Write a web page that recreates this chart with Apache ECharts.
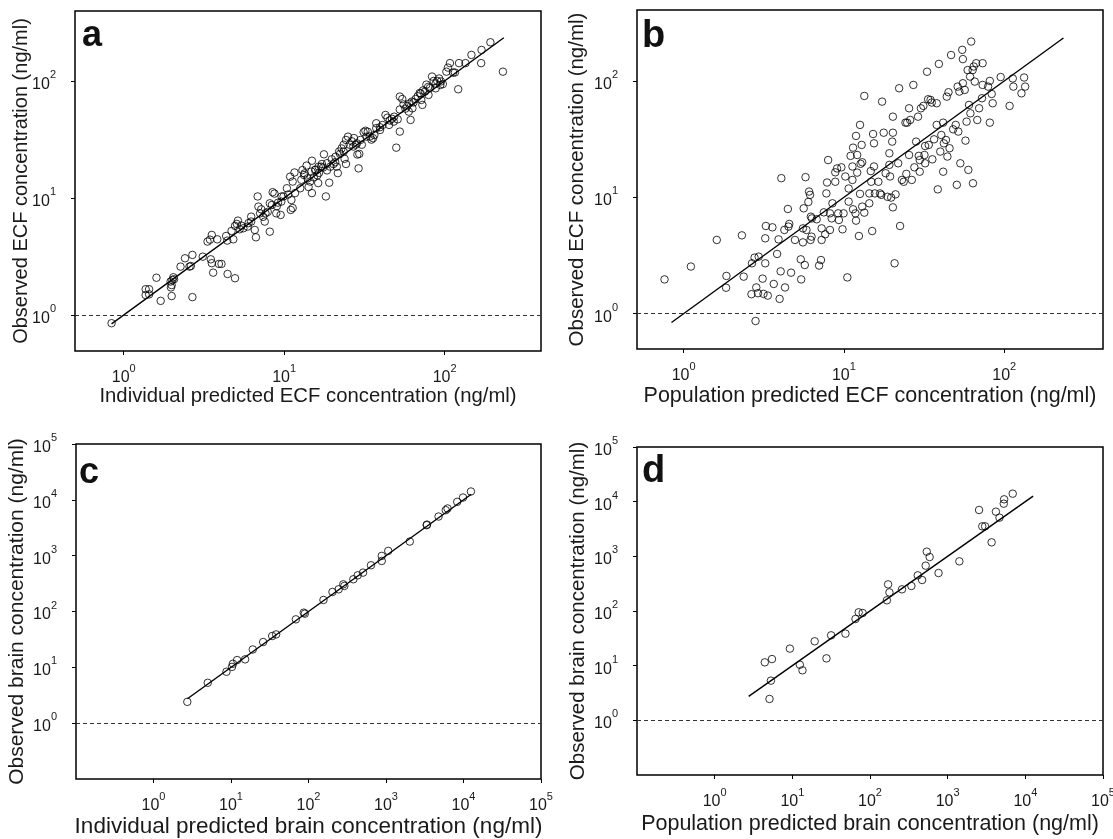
<!DOCTYPE html>
<html>
<head>
    <meta charset="utf-8"/>
    <style>
        html, body {
            padding: 0;
            margin: 0;
            background: #fff;
        }

        #main {
            width: 1113px;
            height: 839px;
        }
    </style>
</head>
<body>
<div id="main"></div>
<script src="https://cdn.jsdelivr.net/npm/echarts@6/dist/echarts.min.js"></script>
<script>
    // [predicted, observed] in ng/ml
    var ecfIndividual = [
        [0.84, 0.85], [1.37, 1.66], [1.44, 1.66], [1.37, 1.48], [1.44, 1.50], [1.60, 2.08], [1.70, 1.32],
        [1.96, 1.93], [1.99, 1.80], [1.97, 1.72], [2.01, 1.99], [2.04, 2.10], [1.99, 1.45], [2.06, 2.02],
        [2.26, 2.59], [2.41, 3.05], [2.57, 2.59], [2.68, 3.26], [2.68, 1.42], [2.62, 2.62],
        [3.11, 3.15], [3.33, 4.24], [3.54, 4.83], [3.83, 4.43], [3.45, 4.40],
        [3.49, 2.99], [3.54, 2.77], [3.61, 2.30], [3.92, 2.73], [4.07, 2.73], [4.44, 2.24], [4.94, 2.06],
        [4.35, 4.73], [4.42, 4.32], [4.82, 4.43], [4.70, 5.22], [5.07, 6.00], [4.94, 5.77], [5.15, 6.40],
        [5.28, 5.40], [5.57, 5.51], [5.92, 5.69], [6.23, 6.28], [6.56, 5.33], [6.67, 4.61], [5.40, 5.80], [6.00, 6.10],
        [6.84, 10.3], [6.91, 8.43], [7.20, 8.00], [7.65, 7.39], [7.57, 6.28], [8.14, 5.15], [7.40, 6.90],
        [7.90, 7.60], [6.23, 6.92], [7.08, 7.39],
        [8.14, 9.00], [8.48, 11.2], [8.70, 10.9], [9.16, 9.12], [9.51, 7.16], [8.93, 7.39], [9.00, 8.50],
        [9.60, 9.30], [8.39, 8.71], [9.64, 10.3],
        [9.91, 10.3], [10.4, 12.1], [10.9, 15.2], [11.3, 13.8], [11.1, 9.60], [11.0, 7.90], [11.3, 8.20],
        [11.6, 16.5], [11.7, 11.0], [10.6, 10.7],
        [12.6, 12.1], [12.8, 14.3], [13.0, 17.3], [13.3, 15.7], [13.4, 16.2], [13.8, 18.9], [14.0, 14.7],
        [14.2, 12.4], [14.5, 13.8], [14.8, 16.8], [14.9, 11.0], [14.9, 20.8], [15.3, 15.0], [15.6, 17.3],
        [15.7, 17.5], [16.1, 15.6], [16.3, 13.4], [16.4, 18.5], [16.5, 16.4], [17.0, 18.5], [17.2, 19.5],
        [17.7, 23.6], [18.2, 10.3], [17.5, 18.2], [18.5, 19.8], [18.5, 17.2], [19.1, 13.5], [19.4, 18.5],
        [19.8, 21.4], [20.3, 19.5], [20.8, 20.2], [20.9, 22.5], [21.3, 18.5], [21.6, 16.3],
        [22.0, 24.9], [22.3, 23.8], [22.8, 26.5], [23.5, 28.5], [23.5, 24.9], [24.3, 19.5], [23.8, 21.6],
        [24.3, 31.3], [25.0, 33.4], [25.6, 28.5], [26.4, 30.5], [27.0, 27.5], [27.2, 32.5], [28.0, 28.5],
        [28.4, 29.3], [29.1, 17.9], [28.6, 23.5], [29.4, 23.8], [29.9, 31.3], [30.5, 28.5], [31.3, 36.5],
        [32.1, 37.5], [32.6, 33.4], [33.2, 36.8], [34.2, 33.5], [35.0, 31.5], [35.8, 32.4], [36.5, 34.5],
        [37.5, 39.5], [37.5, 43.5], [39.5, 40.2], [39.6, 38.1], [41.0, 42.0], [42.8, 51.2], [44.0, 48.5],
        [45.1, 42.1], [45.5, 46.0], [47.0, 47.5], [48.2, 44.9], [48.5, 49.5], [50.0, 26.9], [51.0, 47.0],
        [52.6, 36.9], [52.6, 57.0], [52.6, 73.5], [54.5, 70.0], [55.5, 63.0], [57.0, 58.0], [58.5, 61.0],
        [59.8, 54.7], [61.4, 46.4], [60.0, 64.0], [62.5, 66.5], [63.0, 58.4], [64.0, 65.5], [66.0, 70.0],
        [68.0, 74.0], [70.0, 79.0], [71.6, 68.8], [72.7, 62.4], [71.0, 78.0], [73.5, 83.0], [75.5, 81.0],
        [77.0, 93.0], [79.0, 89.0], [79.4, 75.9], [81.0, 87.0], [83.5, 109], [85.5, 100], [88.0, 95.0],
        [88.0, 86.5], [90.0, 100], [92.5, 105], [94.0, 92.4], [95.0, 99.0], [97.5, 94.0], [102.6, 120],
        [105, 130], [108, 142], [113, 118], [116, 118], [121.6, 84.9], [123, 142], [135, 142], [147, 167],
        [169, 142], [170, 184], [193, 214], [231, 120]
    ];

    var ecfPopulation = [
        [0.76, 1.97], [1.11, 2.54], [1.61, 4.30], [1.85, 2.11], [1.84, 1.67], [2.31, 4.71], [2.37, 2.08],
        [2.67, 2.71], [2.77, 3.03], [2.94, 3.09], [2.65, 1.47], [2.84, 1.68], [2.91, 1.50], [2.81, 0.865],
        [3.15, 1.48], [3.35, 1.43], [3.11, 2.00], [3.23, 4.44], [3.26, 5.67], [3.23, 2.71], [3.58, 5.52],
        [3.65, 1.80], [3.83, 3.26], [3.91, 4.35], [4.03, 2.31], [3.97, 1.34], [4.07, 14.6], [4.29, 1.68],
        [4.25, 5.24], [4.47, 7.94], [4.51, 5.60], [4.56, 5.90], [4.68, 2.25], [4.95, 4.30], [5.38, 2.93],
        [5.41, 1.97], [5.55, 5.41], [5.55, 4.10], [5.70, 2.62], [5.61, 8.04], [5.76, 14.9], [5.84, 5.24],
        [6.00, 9.12], [6.06, 11.2], [6.15, 10.5], [6.22, 6.82], [6.28, 4.59], [6.19, 4.30], [6.31, 6.59],
        [6.76, 6.47], [7.00, 2.59], [7.19, 2.89], [7.26, 4.30], [7.26, 5.41], [7.49, 7.43], [7.77, 10.8],
        [7.85, 13.4], [7.64, 4.81], [7.97, 20.9], [8.18, 5.24], [8.18, 7.28], [8.39, 6.59], [8.48, 8.88],
        [8.83, 13.6], [8.83, 16.4], [9.06, 17.7], [9.21, 7.28], [9.30, 6.38], [9.64, 18.1], [9.80, 5.31],
        [9.95, 7.28], [10.2, 15.1], [10.5, 2.05], [10.7, 11.9], [10.7, 9.18], [11.0, 22.7], [11.3, 18.4],
        [11.3, 14.1], [11.4, 7.89], [11.4, 26.7], [11.8, 7.28], [11.9, 33.7], [12.1, 16.3], [12.1, 23.1],
        [11.9, 6.30], [12.4, 4.65], [12.6, 10.7], [12.7, 19.4], [12.6, 41.9], [12.9, 28.2], [13.0, 20.0],
        [13.0, 8.32], [13.4, 7.38], [13.4, 74.3], [14.4, 8.88], [14.4, 10.8], [14.7, 16.8], [14.8, 13.6],
        [15.0, 5.13], [15.2, 35.0], [15.4, 29.1], [15.4, 18.4], [15.6, 10.8], [16.4, 13.6], [16.8, 10.8],
        [17.1, 10.5], [17.3, 66.4], [17.7, 35.9], [18.2, 16.1], [18.7, 10.1], [19.2, 23.9], [19.2, 19.0],
        [19.4, 15.1], [19.7, 9.94], [20.0, 30.1], [20.2, 35.9], [20.2, 49.3], [20.2, 8.20], [20.7, 2.71],
        [21.0, 10.6], [21.8, 19.6], [22.1, 86.5], [22.4, 5.67], [23.0, 14.1], [23.6, 13.6], [24.2, 43.8],
        [24.8, 43.8], [24.5, 15.9], [25.5, 58.2], [25.5, 23.1], [25.9, 46.2], [26.5, 14.1], [27.1, 92.4],
        [27.5, 18.1], [28.2, 30.1], [29.0, 49.3], [29.3, 22.7], [29.7, 20.9], [29.7, 16.6], [30.2, 58.2],
        [31.3, 61.0], [31.8, 23.1], [32.1, 19.6], [32.1, 27.6], [33.0, 120], [33.5, 69.6], [33.8, 28.2],
        [34.7, 68.7], [35.3, 65.2], [35.6, 21.2], [36.5, 31.5], [37.9, 64.3], [38.5, 11.7], [39.1, 140],
        [37.9, 41.9], [39.9, 24.7], [40.5, 34.3], [41.6, 43.8], [41.6, 16.6], [42.0, 29.1], [43.3, 31.1],
        [43.8, 73.3], [44.2, 22.4], [44.9, 80.0], [45.6, 26.4], [46.6, 167], [48.0, 38.4], [49.8, 41.9],
        [50.6, 12.8], [51.2, 89.4], [51.7, 36.7], [52.5, 81.0], [53.2, 19.6], [54.7, 185], [55.2, 154],
        [55.2, 95.5], [56.7, 83.7], [57.3, 30.7], [58.2, 44.7], [59.1, 124], [59.7, 17.2], [60.3, 62.2],
        [61.2, 109], [61.5, 52.7], [62.2, 218], [63.5, 124], [63.8, 13.2], [64.5, 133], [65.5, 98.7],
        [66.8, 142], [67.9, 46.2], [69.7, 58.2], [73.3, 142], [73.3, 92.4], [72.6, 71.0], [79.3, 89.4],
        [81.3, 100], [81.3, 43.8], [83.5, 77.3], [84.7, 64.3], [95.0, 108], [108, 61.0], [113, 105],
        [114, 89.4], [128, 78.3], [133, 107], [135, 89.4]
    ];

    var brainIndividual = [
        [2.73, 2.41], [5.01, 5.29], [8.74, 8.34], [10.3, 10.2], [10.6, 11.6], [12.0, 13.5], [15.2, 13.9],
        [19.1, 20.9], [26.0, 28.4], [34.0, 36.4], [38.2, 38.9], [68.7, 72.4], [86.9, 95.3], [89.7, 91.4],
        [156, 161], [204, 224], [245, 250], [281, 307], [290, 287], [379, 378], [431, 445], [506, 497],
        [640, 673], [881, 805], [881, 991], [1069, 1217], [2028, 1790], [3350, 3515], [3380, 3600],
        [4765, 5020], [5900, 6530], [6225, 7000], [8300, 9200], [9860, 11000], [12470, 14100]
    ];

    var brainPopulation = [
        [4.42, 11.5], [5.47, 13.2], [5.30, 5.32], [5.08, 2.46], [9.30, 20.5], [12.5, 10.4], [13.5, 8.22],
        [19.4, 27.9], [27.5, 13.6], [31.6, 35.9], [48.3, 38.5], [65.0, 71.4], [71.5, 94.6], [80.4, 91.9],
        [165, 157], [171, 307], [178, 219], [258, 249], [341, 287], [412, 449], [469, 369], [521, 675],
        [538, 1217], [586, 972], [763, 495], [1414, 810], [2537, 7040], [2790, 3540], [3037, 3540],
        [3680, 1803], [4180, 6560], [4645, 5100], [5275, 9190], [5335, 11040], [6880, 14000]
    ];

    // ends of the line of identity
    var identityEcf = [0.84, 234];
    var identityBrain = [2.74, 12600];
    var limitLine = 1;

    var ecfTicks = [1, 10, 100];
    var brainTicks = [1, 10, 100, 1000, 10000, 100000];

    var fontFam = "'Liberation Sans', Arial, Helvetica, sans-serif";

    var panels = [
        {
            letter: 'a', pts: ecfIndividual, ident: identityEcf, ticks: ecfTicks,
            xName: 'Individual predicted ECF concentration (ng/ml)', yName: 'Observed ECF concentration (ng/ml)',
            box: {left: 75, top: 11, width: 466, height: 340}, xr: [0.497, 399], yr: [0.492, 396],
            xFont: 20.3, yFont: 20, xGap: 35, yGap: 44, letterPos: [82, 18], letterSize: 36
        },
        {
            letter: 'b', pts: ecfPopulation, ident: identityEcf, ticks: ecfTicks,
            xName: 'Population predicted ECF concentration (ng/ml)', yName: 'Observed ECF concentration (ng/ml)',
            box: {left: 637, top: 10, width: 466, height: 339}, xr: [0.512, 413], yr: [0.497, 407],
            xFont: 21.5, yFont: 20.5, xGap: 36, yGap: 49, letterPos: [642, 18], letterSize: 38
        },
        {
            letter: 'c', pts: brainIndividual, ident: identityBrain, ticks: brainTicks,
            xName: 'Individual predicted brain concentration (ng/ml)', yName: 'Observed brain concentration (ng/ml)',
            box: {left: 76, top: 444, width: 465, height: 335}, xr: [0.1, 100000], yr: [0.1, 100000],
            xFont: 22.5, yFont: 21, xGap: 36, yGap: 48, letterPos: [79, 455], letterSize: 36
        },
        {
            letter: 'd', pts: brainPopulation, ident: identityBrain, ticks: brainTicks,
            xName: 'Population predicted brain concentration (ng/ml)', yName: 'Observed brain concentration (ng/ml)',
            box: {left: 637, top: 447, width: 466, height: 328}, xr: [0.1, 100000], yr: [0.1, 100000],
            xFont: 21.5, yFont: 20.5, xGap: 38, yGap: 48, letterPos: [642, 453], letterSize: 38
        }
    ];

    function expLabel(v) {
        var e = Math.round(Math.log(v) / Math.LN10);
        return '{b|10}{s|' + e + '}';
    }

    var labelRich = {
        b: {fontSize: 16, lineHeight: 23, verticalAlign: 'bottom', color: '#1a1a1a', fontFamily: fontFam},
        s: {fontSize: 11, lineHeight: 11, verticalAlign: 'top', color: '#1a1a1a', fontFamily: fontFam}
    };

    function makeAxis(i, range, ticks, name, size, gap, margin) {
        return {
            type: 'log',
            logBase: 10,
            gridIndex: i,
            min: range[0],
            max: range[1],
            name: name,
            nameLocation: 'middle',
            nameGap: gap,
            nameMoveOverlap: false,
            nameTextStyle: {fontSize: size, color: '#1a1a1a', fontFamily: fontFam},
            axisLine: {show: false},
            splitLine: {show: false},
            minorTick: {show: false},
            axisTick: {show: true, inside: false, length: 4, customValues: ticks, lineStyle: {color: '#000', width: 1}},
            axisLabel: {customValues: ticks, margin: margin, formatter: expLabel, rich: labelRich}
        };
    }

    var option = {
        animation: false,
        backgroundColor: '#fff',
        textStyle: {fontFamily: fontFam},
        title: [],
        grid: [],
        xAxis: [],
        yAxis: [],
        series: []
    };

    panels.forEach(function (p, i) {
        option.title.push({
            text: p.letter, left: p.letterPos[0], top: p.letterPos[1], padding: 0,
            textStyle: {fontSize: p.letterSize, fontWeight: 'bold', color: '#111', fontFamily: fontFam}
        });
        option.grid.push({
            left: p.box.left, top: p.box.top, width: p.box.width, height: p.box.height,
            show: true, borderColor: '#000', borderWidth: 1.5, backgroundColor: 'transparent',
            containLabel: false, outerBoundsMode: 'none'
        });
        option.xAxis.push(makeAxis(i, p.xr, p.ticks, p.xName, p.xFont, p.xGap, 12));
        option.yAxis.push(makeAxis(i, p.yr, p.ticks, p.yName, p.yFont, p.yGap, 19));
        option.series.push({
            type: 'scatter',
            xAxisIndex: i,
            yAxisIndex: i,
            data: p.pts,
            symbol: 'circle',
            symbolSize: 7.5,
            itemStyle: {color: 'rgba(0,0,0,0)', borderColor: '#000', borderWidth: 1},
            markLine: {
                silent: true,
                symbol: 'none',
                label: {show: false},
                lineStyle: {color: '#333', type: [4, 3], width: 1},
                data: [{yAxis: limitLine}]
            }
        });
        option.series.push({
            type: 'line',
            xAxisIndex: i,
            yAxisIndex: i,
            data: [[p.ident[0], p.ident[0]], [p.ident[1], p.ident[1]]],
            symbol: 'none',
            showSymbol: false,
            lineStyle: {color: '#000', width: 1.4}
        });
    });

    var chart = echarts.init(document.getElementById('main'));
    chart.setOption(option);
</script>
</body>
</html>
